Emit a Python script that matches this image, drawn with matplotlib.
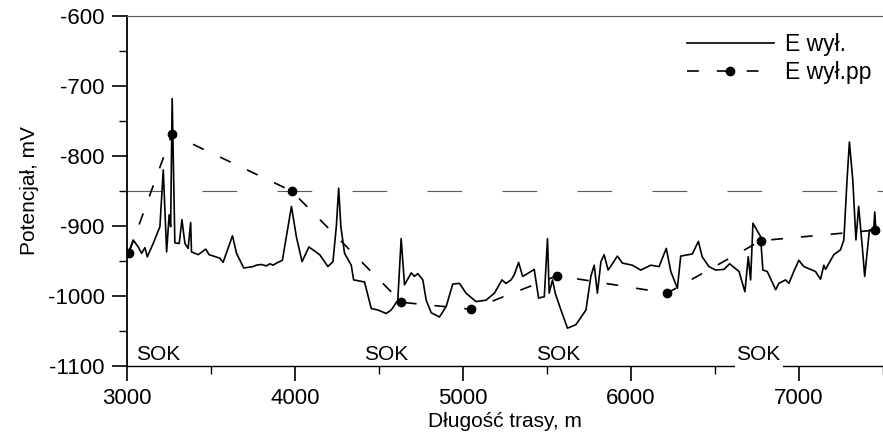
import numpy as np
import matplotlib
matplotlib.use("Agg")
import matplotlib.pyplot as plt
from matplotlib.ticker import MultipleLocator

# --- DATA ---
# E wył. (measured off-potential along the route)
dist = [3008, 3037, 3067, 3087, 3107, 3121, 3156, 3196, 3216, 3236, 3251, 3260,
        3269, 3285, 3311, 3327, 3345, 3364, 3379, 3384, 3424, 3469, 3489, 3553,
        3572, 3628, 3652, 3695, 3750, 3770, 3800, 3830, 3850, 3870, 3890, 3925,
        3949, 3979, 4008, 4042,
        4083, 4147, 4196, 4226, 4246, 4260, 4273, 4295, 4335, 4349, 4414, 4454,
        4493, 4543, 4573, 4612, 4632, 4652, 4692, 4711, 4731, 4761, 4781, 4811,
        4860, 4900, 4939, 4979, 5018, 5078, 5137, 5187, 5232, 5256, 5286, 5305,
        5331, 5355, 5384, 5424, 5450, 5484, 5503, 5513, 5533, 5549, 5583, 5622,
        5672, 5732, 5761, 5781, 5800, 5821, 5840, 5864, 5919, 5949, 6008, 6058,
        6118, 6167, 6210, 6237, 6276, 6296, 6365, 6401, 6424, 6464, 6504, 6553,
        6587, 6643, 6678, 6698, 6712, 6726, 6771, 6785, 6811, 6861, 6880, 6920,
        6940, 6969, 6999, 7029, 7098, 7128, 7148, 7158, 7207, 7247, 7267, 7286,
        7300, 7320, 7339, 7355, 7375, 7391, 7419, 7445, 7451, 7458]
e_wyl = [-939, -920, -930, -939, -931, -944, -925, -901, -820, -937, -884, -901,
         -718, -924, -925, -891, -925, -932, -895, -937, -941, -933, -941, -946,
         -952, -914, -939, -960, -958, -956, -955, -957, -954, -956, -953, -949,
         -915, -872, -915, -951,
         -930, -941, -958, -951, -901, -846, -901, -939, -956, -977, -980, -1018,
         -1020, -1025, -1020, -1006, -918, -984, -967, -972, -968, -977, -1006, -1024,
         -1030, -1015, -983, -982, -996, -1008, -1006, -996, -977, -982, -977, -970,
         -952, -972, -968, -962, -1003, -1001, -918, -996, -977, -996, -1020, -1046,
         -1041, -1020, -972, -956, -996, -951, -941, -963, -943, -953, -956, -963,
         -956, -958, -932, -965, -989, -943, -940, -922, -944, -958, -963, -962,
         -954, -965, -994, -944, -977, -896, -915, -963, -965, -991, -982, -977,
         -982, -965, -949, -958, -965, -976, -956, -962, -941, -934, -920, -834,
         -780, -834, -920, -872, -925, -972, -906, -904, -880, -908]

# E wył.pp (point measurements)
dist_pp = [3012, 3267, 3980, 4634, 5050, 5561, 6215, 6773, 7450]
e_wyl_pp = [-938, -769, -850, -1009, -1019, -971, -996, -921, -906]

criterion = -850  # protection criterion line
sok_x = [3055, 4410, 5432, 6626]
sok_labels = ["SOK", "SOK", "SOK", "SOK"]

# --- STYLE ---
plt.rcParams['font.family'] = ['Liberation Sans', 'DejaVu Sans']
plt.rcParams['lines.scale_dashes'] = False
plt.rcParams['axes.unicode_minus'] = False

fig = plt.figure(figsize=(8.83, 4.36), dpi=100)
ax = fig.add_axes([0.1438, 0.1606, 0.8562, 0.8027])

ax.axhline(criterion, color='0.35', lw=0.8, ls=(0, (25, 29)), zorder=1)
ax.plot(dist, e_wyl, color='black', lw=1.2, label='E wył.', zorder=3)
ax.plot(dist_pp, e_wyl_pp, color='black', lw=1.2, ls=(0, (8.5, 13)),
        marker='o', ms=6, label='E wył.pp', zorder=4)

for x, s in zip(sok_x, sok_labels):
    ax.text(x, -1097, s, fontsize=15, ha='left', va='bottom')
# gap in the axis line under the last label
ax.hlines(-1100, sok_x[-1] - 8, sok_x[-1] + 280, colors='white', lw=3,
          zorder=6, clip_on=False)

ax.set_xlim(3000, 7500)
ax.set_ylim(-1100, -600)
ax.xaxis.set_major_locator(MultipleLocator(1000))
ax.xaxis.set_minor_locator(MultipleLocator(500))
ax.yaxis.set_major_locator(MultipleLocator(100))
ax.yaxis.set_minor_locator(MultipleLocator(50))
ax.tick_params(which='major', direction='out', length=11, width=1.2,
               labelsize=16, pad=5, top=False, right=False)
ax.tick_params(which='minor', direction='out', length=6, width=1.0,
               top=False, right=False)

ax.spines['right'].set_visible(False)
ax.spines['top'].set_color('0.35')
ax.spines['top'].set_linewidth(0.8)
ax.spines['left'].set_linewidth(1.3)
ax.spines['bottom'].set_linewidth(1.0)

ax.set_xlabel("Długość trasy, m", fontsize=15, labelpad=2)
ax.set_ylabel("Potencjał, mV", fontsize=15, labelpad=6)

ax.legend(loc='upper right', bbox_to_anchor=(1.0, 0.985), frameon=False,
          fontsize=16.5, handlelength=3.8, borderaxespad=0.1,
          labelspacing=0.25, handletextpad=0.5)

fig.savefig("out.png", dpi=100)
